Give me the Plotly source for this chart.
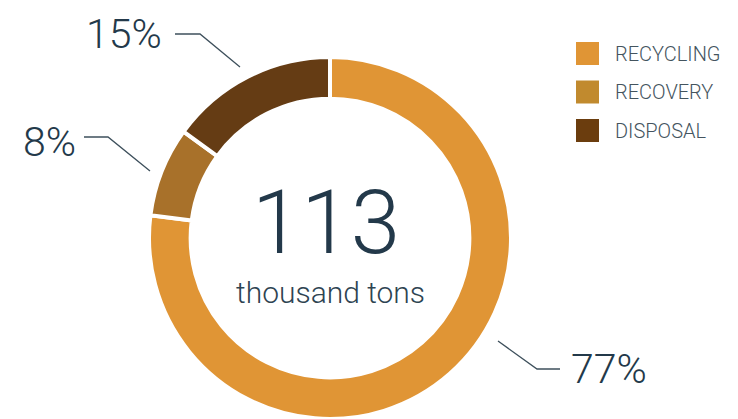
import plotly.graph_objects as go

W, H = 738, 419

# ---- data ----
categories = ["RECYCLING", "RECOVERY", "DISPOSAL"]
shares = [77, 8, 15]
slice_colors = ["#E09535", "#A8712A", "#653C14"]
legend_colors = ["#E09535", "#C18A2E", "#6B3D0E"]
total_value = "113"
total_unit = "thousand tons"

TEXT = "#23394A"
FONT = "Roboto"


def px(x, y):
    return x / W, 1 - y / H


fig = go.Figure()

# donut: radius 181 px centred horizontally at x=330
cx, r = 330, 181
x0, _ = px(cx - r, 0)
x1, _ = px(cx + r, 0)
fig.add_trace(go.Pie(
    labels=categories,
    values=shares,
    sort=False,
    direction="clockwise",
    rotation=0,
    hole=0.77,
    marker=dict(colors=slice_colors, line=dict(color="white", width=4)),
    textinfo="none",
    hoverinfo="label+percent",
    showlegend=False,
    domain=dict(x=[x0, x1], y=[0, 2 * r / H]),
))

annotations = []
shapes = []

# centre text
ax, ay = px(326, 222)
annotations.append(dict(x=ax, y=ay, xref="paper", yref="paper", text=total_value,
                        showarrow=False, xanchor="center", yanchor="middle",
                        font=dict(family=FONT, size=89, color=TEXT, weight=300)))
ax, ay = px(330, 292)
annotations.append(dict(x=ax, y=ay, xref="paper", yref="paper", text=total_unit,
                        showarrow=False, xanchor="center", yanchor="middle",
                        font=dict(family=FONT, size=30, color="#2E4452", weight=300)))

# percent labels with elbow leader lines (layout positions)
label_layout = {
    "RECYCLING": dict(text_xy=(569, 369), anchor="left",
                      path=[(498, 341), (537, 369), (560, 369)]),
    "RECOVERY": dict(text_xy=(78, 142), anchor="right",
                     path=[(150, 171), (108, 137), (84, 137)]),
    "DISPOSAL": dict(text_xy=(164, 34), anchor="right",
                     path=[(240, 67), (200, 34), (175, 34)]),
}
total = sum(shares)
for cat, val in zip(categories, shares):
    spec = label_layout[cat]
    tx, ty = px(*spec["text_xy"])
    annotations.append(dict(x=tx, y=ty, xref="paper", yref="paper",
                            text=f"{round(100 * val / total)}%", showarrow=False,
                            xanchor=spec["anchor"], yanchor="middle",
                            font=dict(family=FONT, size=41, color=TEXT, weight=300)))
    pts = [px(*p) for p in spec["path"]]
    d = "M " + " L ".join(f"{a:.5f},{b:.5f}" for a, b in pts)
    shapes.append(dict(type="path", xref="paper", yref="paper", path=d,
                       line=dict(color="#3E505C", width=1.3)))

# legend (manual, larger swatches)
for i, (cat, col) in enumerate(zip(categories, legend_colors)):
    top = 42 + i * 38.5
    sx0, sy0 = px(576, top)
    sx1, sy1 = px(599, top + 23)
    shapes.append(dict(type="rect", xref="paper", yref="paper",
                       x0=sx0, x1=sx1, y0=sy1, y1=sy0,
                       fillcolor=col, line=dict(width=0)))
    lx, ly = px(613, top + 11.5)
    annotations.append(dict(x=lx, y=ly, xref="paper", yref="paper", text=cat,
                            showarrow=False, xanchor="left", yanchor="middle",
                            font=dict(family=FONT, size=20, color="#44545E", weight=300)))

fig.update_layout(
    width=W, height=H,
    margin=dict(l=0, r=0, t=0, b=0),
    paper_bgcolor="white", plot_bgcolor="white",
    annotations=annotations, shapes=shapes,
    showlegend=False,
)

fig.write_html("out.html")
